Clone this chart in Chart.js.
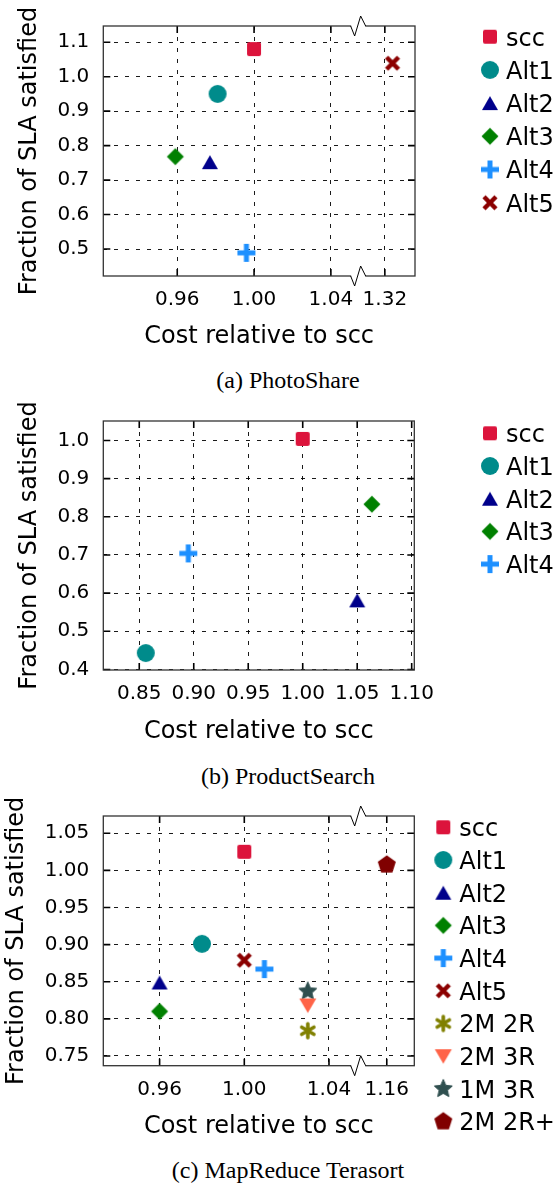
<!DOCTYPE html>
<html>
<head>
<meta charset="utf-8">
<script src="https://cdn.jsdelivr.net/npm/chart.js@4.4.1/dist/chart.umd.min.js"></script>
<style>
  html, body { margin: 0; padding: 0; background: #fff; }
  body { width: 553px; height: 1185px; position: relative; overflow: hidden; }
  .plot { position: absolute; left: 0; width: 553px; height: 360px; }
  .caption { position: absolute; left: 0; width: 576px; text-align: center;
             font-family: "Liberation Serif", serif; font-size: 24px; line-height: 24px; color: #000; }
</style>
</head>
<body>
<div class="plot" style="top:0px"><canvas id="photoShare" width="553" height="360"></canvas></div>
<div class="caption" style="top:368px">(a) PhotoShare</div>
<div class="plot" style="top:395px"><canvas id="productSearch" width="553" height="360"></canvas></div>
<div class="caption" style="top:764px">(b) ProductSearch</div>
<div class="plot" style="top:790px"><canvas id="terasort" width="553" height="360"></canvas></div>
<div class="caption" style="top:1158px">(c) MapReduce Terasort</div>

<script>
// (a) PhotoShare
const psNames = ['scc', 'Alt1', 'Alt2', 'Alt3', 'Alt4', 'Alt5'];
const psCost  = [1.000, 0.981, 0.977, 0.959, 0.996, 1.324];
const psSla   = [1.080, 0.950, 0.752, 0.768, 0.489, 1.039];
const psXTicks  = [0.96, 1.00, 1.04, 1.32];
const psXLabels = ['0.96', '1.00', '1.04', '1.32'];
const psYTicks  = [0.5, 0.6, 0.7, 0.8, 0.9, 1.0, 1.1];
const psYLabels = ['0.5', '0.6', '0.7', '0.8', '0.9', '1.0', '1.1'];

// (b) ProductSearch
const prNames = ['scc', 'Alt1', 'Alt2', 'Alt3', 'Alt4'];
const prCost  = [1.000, 0.856, 1.050, 1.0635, 0.895];
const prSla   = [1.004, 0.443, 0.581, 0.833, 0.704];
const prXTicks  = [0.85, 0.90, 0.95, 1.00, 1.05, 1.10];
const prXLabels = ['0.85', '0.90', '0.95', '1.00', '1.05', '1.10'];
const prYTicks  = [0.4, 0.5, 0.6, 0.7, 0.8, 0.9, 1.0];
const prYLabels = ['0.4', '0.5', '0.6', '0.7', '0.8', '0.9', '1.0'];

// (c) MapReduce Terasort
const mrNames = ['scc', 'Alt1', 'Alt2', 'Alt3', 'Alt4', 'Alt5', '2M 2R', '2M 3R', '1M 3R', '2M 2R+'];
const mrCost  = [1.000, 0.980, 0.960, 0.960, 1.0095, 1.000, 1.030, 1.030, 1.030, 1.160];
const mrSla   = [1.025, 0.901, 0.849, 0.810, 0.867, 0.879, 0.784, 0.818, 0.837, 1.0075];
const mrXTicks  = [0.96, 1.00, 1.04, 1.16];
const mrXLabels = ['0.96', '1.00', '1.04', '1.16'];
const mrYTicks  = [0.75, 0.80, 0.85, 0.90, 0.95, 1.00, 1.05];
const mrYLabels = ['0.75', '0.80', '0.85', '0.90', '0.95', '1.00', '1.05'];

// marker look for each series
const seriesStyle = {
  'scc':    { kind: 'square',   color: '#DC143C' },
  'Alt1':   { kind: 'circle',   color: '#008B8B' },
  'Alt2':   { kind: 'triUp',    color: '#00008B' },
  'Alt3':   { kind: 'diamond',  color: '#008000' },
  'Alt4':   { kind: 'plus',     color: '#1E90FF' },
  'Alt5':   { kind: 'x',        color: '#8B0000' },
  '2M 2R':  { kind: 'asterisk', color: '#808000' },
  '2M 3R':  { kind: 'triDown',  color: '#FF6347' },
  '1M 3R':  { kind: 'star',     color: '#2F4F4F' },
  '2M 2R+': { kind: 'pentagon', color: '#800000' }
};

function makeMarker(kind, color) {
  const c = document.createElement('canvas');
  c.width = 24; c.height = 24;
  const g = c.getContext('2d');
  g.translate(12, 12);
  g.fillStyle = color;
  g.strokeStyle = color;
  g.lineJoin = 'round';
  g.beginPath();
  if (kind === 'square') {
    const r = 2, s = 7;
    g.moveTo(-s + r, -s);
    g.arcTo(s, -s, s, s, r); g.arcTo(s, s, -s, s, r);
    g.arcTo(-s, s, -s, -s, r); g.arcTo(-s, -s, s, -s, r);
    g.closePath(); g.fill();
  } else if (kind === 'circle') {
    g.arc(0, 0, 9, 0, Math.PI * 2); g.fill();
  } else if (kind === 'triUp') {
    g.moveTo(0, -7); g.lineTo(8, 7); g.lineTo(-8, 7); g.closePath(); g.fill();
  } else if (kind === 'triDown') {
    g.moveTo(0, 7.5); g.lineTo(8.5, -7); g.lineTo(-8.5, -7); g.closePath(); g.fill();
  } else if (kind === 'diamond') {
    g.moveTo(0, -8.5); g.lineTo(8.5, 0); g.lineTo(0, 8.5); g.lineTo(-8.5, 0); g.closePath(); g.fill();
  } else if (kind === 'plus') {
    g.fillRect(-9, -2.5, 18, 5); g.fillRect(-2.5, -9, 5, 18);
  } else if (kind === 'x') {
    g.lineWidth = 4.5;
    g.moveTo(-6, -6); g.lineTo(6, 6); g.moveTo(6, -6); g.lineTo(-6, 6); g.stroke();
  } else if (kind === 'asterisk') {
    g.lineWidth = 3.6; g.lineCap = 'round';
    for (let k = 0; k < 3; k++) {
      const a = Math.PI / 2 + k * Math.PI / 3;
      g.moveTo(Math.cos(a) * 7, Math.sin(a) * 7);
      g.lineTo(-Math.cos(a) * 7, -Math.sin(a) * 7);
    }
    g.stroke();
  } else if (kind === 'star') {
    for (let i = 0; i < 10; i++) {
      const r = i % 2 ? 4.4 : 9.5;
      const a = -Math.PI / 2 + i * Math.PI / 5;
      if (i === 0) g.moveTo(Math.cos(a) * r, Math.sin(a) * r);
      else g.lineTo(Math.cos(a) * r, Math.sin(a) * r);
    }
    g.closePath(); g.fill();
    g.lineWidth = 1; g.stroke();
  } else if (kind === 'pentagon') {
    for (let i = 0; i < 5; i++) {
      const a = -Math.PI / 2 + i * 2 * Math.PI / 5;
      if (i === 0) g.moveTo(Math.cos(a) * 9.5, Math.sin(a) * 9.5);
      else g.lineTo(Math.cos(a) * 9.5, Math.sin(a) * 9.5);
    }
    g.closePath(); g.fill();
  }
  return c;
}

// broken x axis: values beyond 'cut' are shifted left by 'shift'
function toAxis(v, brk) {
  return (brk && v > brk.cut) ? v - brk.shift : v;
}

// box, inward ticks and the axis break marks
const framePlugin = {
  id: 'frame',
  beforeDatasetsDraw(chart, args, opts) {
    const { ctx, chartArea: a, scales: { x, y } } = chart;
    ctx.save();
    ctx.strokeStyle = '#000';
    ctx.lineWidth = 1.6;
    ctx.beginPath();
    x.ticks.forEach(t => {
      const px = x.getPixelForValue(t.value);
      ctx.moveTo(px, a.top); ctx.lineTo(px, a.top + 7);
      ctx.moveTo(px, a.bottom); ctx.lineTo(px, a.bottom - 7);
    });
    y.ticks.forEach(t => {
      const py = y.getPixelForValue(t.value);
      ctx.moveTo(a.left, py); ctx.lineTo(a.left + 7, py);
      ctx.moveTo(a.right, py); ctx.lineTo(a.right - 7, py);
    });
    ctx.stroke();
    ctx.strokeStyle = '#333';
    ctx.lineWidth = 1.3;
    ctx.strokeRect(a.left, a.top, a.right - a.left, a.bottom - a.top);
    if (opts.breakAt) {
      const bx = x.getPixelForValue(opts.breakAt);
      [a.top, a.bottom].forEach(ey => {
        ctx.strokeStyle = '#fff';
        ctx.lineWidth = 3;
        ctx.beginPath();
        ctx.moveTo(bx - 7, ey); ctx.lineTo(bx + 7, ey);
        ctx.stroke();
        ctx.strokeStyle = '#000';
        ctx.lineWidth = 1;
        ctx.beginPath();
        ctx.moveTo(bx - 7.5, ey);
        ctx.lineTo(bx - 3.5, ey + 10);
        ctx.lineTo(bx + 2.5, ey - 10);
        ctx.lineTo(bx + 7.5, ey);
        ctx.stroke();
      });
    }
    ctx.restore();
  }
};

// legend at the right side of the plot
const sideLegend = {
  id: 'sideLegend',
  afterDraw(chart, args, opts) {
    const ctx = chart.ctx;
    ctx.save();
    ctx.font = '24px "DejaVu Sans"';
    ctx.fillStyle = '#000';
    ctx.textBaseline = 'alphabetic';
    chart.data.datasets.forEach((ds, i) => {
      const yy = opts.y0 + i * opts.dy;
      const img = ds.pointStyle;
      ctx.drawImage(img, opts.markerX - img.width / 2, yy - img.height / 2);
      ctx.fillText(ds.label, opts.textX, yy + 8.8);
    });
    ctx.restore();
  }
};

Chart.defaults.font.family = "'DejaVu Sans', sans-serif";
Chart.defaults.color = '#000';

function drawPanel(id, p) {
  const datasets = p.names.map((name, i) => {
    const st = seriesStyle[name];
    return {
      label: name,
      data: [{ x: toAxis(p.cost[i], p.brk), y: p.sla[i] }],
      pointStyle: makeMarker(st.kind, st.color),
      pointRadius: 9,
      backgroundColor: st.color,
      borderColor: st.color
    };
  });
  const xTickVals = p.xTicks.map(v => toAxis(v, p.brk));

  new Chart(document.getElementById(id), {
    type: 'scatter',
    data: { datasets: datasets },
    options: {
      responsive: false,
      animation: false,
      layout: { padding: { top: p.padTop, right: 553 - p.right, left: 0, bottom: 0 } },
      plugins: {
        legend: { display: false },
        tooltip: { enabled: false },
        frame: { breakAt: p.brk ? p.brk.at : null },
        sideLegend: p.legend
      },
      scales: {
        x: {
          type: 'linear',
          min: p.xRange[0], max: p.xRange[1],
          afterBuildTicks: s => { s.ticks = xTickVals.map(v => ({ value: v })); },
          afterFit: s => { s.height = p.xHeight; },
          ticks: {
            autoSkip: false, maxRotation: 0, padding: 12,
            font: { size: 20 },
            callback: (v, i) => p.xLabels[i]
          },
          grid: { color: '#000', lineWidth: 0.9, drawTicks: false },
          border: { display: false, dash: [4, 7] },
          title: { display: true, text: 'Cost relative to scc', font: { size: 24 }, padding: { top: 0, bottom: 8.5 } }
        },
        y: {
          type: 'linear',
          min: p.yRange[0], max: p.yRange[1],
          afterBuildTicks: s => { s.ticks = p.yTicks.map(v => ({ value: v })); },
          afterFit: s => { s.width = p.left; },
          ticks: {
            autoSkip: false, padding: 14,
            font: { size: 20 },
            callback: (v, i) => p.yLabels[i]
          },
          grid: { color: '#000', lineWidth: 0.9, drawTicks: false },
          border: { display: false, dash: [4, 7] },
          title: { display: true, text: 'Fraction of SLA satisfied', font: { size: 24 }, padding: { top: p.yTitlePad, bottom: 0 } }
        }
      }
    },
    plugins: [framePlugin, sideLegend]
  });
}

drawPanel('photoShare', {
  names: psNames, cost: psCost, sla: psSla,
  xTicks: psXTicks, xLabels: psXLabels, yTicks: psYTicks, yLabels: psYLabels,
  brk: { cut: 1.10, shift: 0.2519, at: 1.0542 },
  xRange: [0.9215, 1.0838], yRange: [0.4218, 1.147],
  padTop: 19.3, xHeight: 84, left: 103.3, right: 415, yTitlePad: 15.4,
  legend: { markerX: 490, textX: 506, y0: 36.7, dy: 33.2 }
});

drawPanel('productSearch', {
  names: prNames, cost: prCost, sla: prSla,
  xTicks: prXTicks, xLabels: prXLabels, yTicks: prYTicks, yLabels: prYLabels,
  brk: null,
  xRange: [0.817, 1.1024], yRange: [0.3985, 1.051],
  padTop: 19.3, xHeight: 85, left: 103.3, right: 414.3, yTitlePad: 15.4,
  legend: { markerX: 490, textX: 506, y0: 38.3, dy: 32.7 }
});

drawPanel('terasort', {
  names: mrNames, cost: mrCost, sla: mrSla,
  xTicks: mrXTicks, xLabels: mrXLabels, yTicks: mrYTicks, yLabels: mrYLabels,
  brk: { cut: 1.10, shift: 0.0927, at: 1.0538 },
  xRange: [0.9334, 1.0803], yRange: [0.7369, 1.0732],
  padTop: 19, xHeight: 84.3, left: 103.3, right: 414.3, yTitlePad: 2.3,
  legend: { markerX: 443.3, textX: 459.3, y0: 37.3, dy: 32.7 }
});
</script>
</body>
</html>
